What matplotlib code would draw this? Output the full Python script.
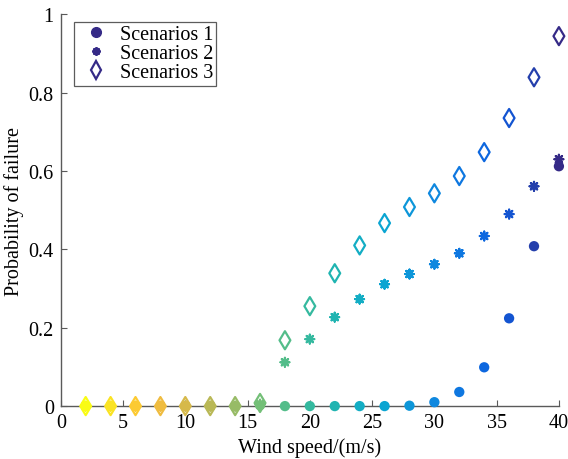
import numpy as np
import matplotlib
matplotlib.use('Agg')
import matplotlib.pyplot as plt
from matplotlib.colors import LinearSegmentedColormap
from matplotlib.lines import Line2D

wind = [2, 4, 6, 8, 10, 12, 14, 16, 18, 20, 22, 24, 26, 28, 30, 32, 34, 36, 38, 40]
scen1 = [0, 0, 0, 0, 0, 0, 0, 0.002, 0, 0, 0, 0, 0, 0.001, 0.01, 0.036, 0.099, 0.224, 0.408, 0.612]
scen2 = [0, 0, 0, 0, 0, 0, 0, 0.005, 0.112, 0.171, 0.227, 0.273, 0.311, 0.337, 0.362, 0.39, 0.434, 0.49, 0.561, 0.63]
scen3 = [0, 0, 0, 0, 0, 0, 0, 0.008, 0.168, 0.255, 0.339, 0.41, 0.467, 0.508, 0.543, 0.587, 0.648, 0.735, 0.839, 0.944]
names = ['Scenarios 1', 'Scenarios 2', 'Scenarios 3']

# rough parula
parula = LinearSegmentedColormap.from_list('parula', [
    (0.00, (0.208, 0.166, 0.529)),
    (0.12, (0.05, 0.36, 0.87)),
    (0.25, (0.06, 0.52, 0.88)),
    (0.38, (0.04, 0.66, 0.82)),
    (0.50, (0.15, 0.72, 0.66)),
    (0.62, (0.42, 0.75, 0.48)),
    (0.75, (0.76, 0.72, 0.32)),
    (0.87, (0.99, 0.74, 0.23)),
    (1.00, (0.976, 0.984, 0.081)),
])

x = np.array(wind)
cols = parula((40 - x) / 38.0)

plt.rcParams['font.family'] = ['Liberation Serif', 'DejaVu Serif']
fig = plt.figure(figsize=(5.68, 4.6), dpi=100)
ax = fig.add_axes([0.107, 0.115, 0.877, 0.852])

ax.scatter(x, scen1, s=55, c=cols, marker='o', linewidths=0, zorder=3, clip_on=False)
ax.scatter(x, scen2, s=40, c=cols, marker=(8, 2, 0), linewidths=1.6, zorder=3, clip_on=False)
ax.scatter(x, scen3, s=85, facecolors='none', edgecolors=cols, marker='d', linewidths=1.6,
           zorder=4, clip_on=False)

ax.set_xlim(0, 40)
ax.set_ylim(0, 1)
ax.set_xticks([0, 5, 10, 15, 20, 25, 30, 35, 40])
ax.set_yticks([0, 0.2, 0.4, 0.6, 0.8, 1])
ax.set_yticklabels(['0', '0.2', '0.4', '0.6', '0.8', '1'])
ax.spines['top'].set_visible(False)
ax.spines['right'].set_visible(False)
for s in ['left', 'bottom']:
    ax.spines[s].set_color('#5a5a5a')
    ax.spines[s].set_linewidth(1.0)
ax.tick_params(direction='in', length=4, color='#5a5a5a', labelsize=14.5, pad=5)
ax.set_xlabel('Wind speed/(m/s)', fontsize=14.5, labelpad=4)
ax.set_ylabel('Probability of failure', fontsize=14.5, labelpad=3)

lc = parula(0.0)
handles = [
    Line2D([], [], ls='none', marker='o', ms=7, mfc=lc, mec=lc),
    Line2D([], [], ls='none', marker=(8, 2, 0), ms=6, mec=lc, mew=1.5),
    Line2D([], [], ls='none', marker='d', ms=9, mfc='none', mec=lc, mew=1.6),
]
leg = ax.legend(handles, names, loc='upper left', bbox_to_anchor=(0.015, 0.995),
                fontsize=14.5, frameon=True, fancybox=False, handletextpad=0.2,
                borderpad=0.15, labelspacing=0.0, handlelength=1.9, borderaxespad=0.3)
leg.get_frame().set_edgecolor('#333333')
leg.get_frame().set_linewidth(0.9)

plt.savefig('out.png', dpi=100)
